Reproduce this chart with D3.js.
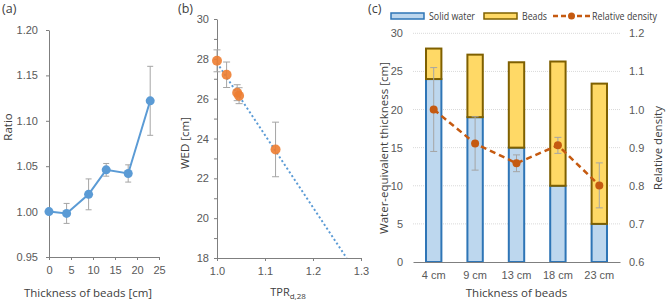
<!DOCTYPE html>
<html>
<head>
<meta charset="utf-8">
<script src="https://cdn.jsdelivr.net/npm/d3@7"></script>
<style>
  body { margin: 0; background: #fff; }
  svg { font-family: "Open Sans", sans-serif; }
  .axis text { fill: #595959; font-size: 11px; }
  .axis path, .axis line { stroke: #7f7f7f; }
  .title { fill: #404040; font-size: 11.5px; }
  .legend text { fill: #404040; font-size: 10px; }
</style>
</head>
<body>
<div id="chart"></div>
<script>
// panel (a) data
var thicknessA = [0, 4, 9, 13, 18, 23];
var ratioA = [1.000, 0.998, 1.019, 1.046, 1.042, 1.122];
var ratioErr = [0, 0.011, 0.017, 0.007, 0.0095, 0.038];
var ticksAx = [0, 5, 10, 15, 20, 25];
var ticksAy = [0.95, 1.00, 1.05, 1.10, 1.15, 1.20];

// panel (b) data
var tprB = [1.000, 1.020, 1.042, 1.046, 1.122];
var wedB = [27.9, 27.2, 26.3, 26.15, 23.45];
var wedErr = [0.55, 0.64, 0.4, 0.4, 1.37];
var trendX = [1.0, 1.27];
var trendY = [27.8, 18.0];
var ticksBx = [1.0, 1.1, 1.2, 1.3];

// panel (c) data
var categoriesC = ["4 cm", "9 cm", "13 cm", "18 cm", "23 cm"];
var solidWater = [24, 19, 15, 10, 5];
var beads = [4, 8.2, 11.2, 16.3, 18.4];
var relDensity = [1.00, 0.911, 0.859, 0.906, 0.801];
var relErr = [0.11, 0.07, 0.022, 0.021, 0.059];
var ticksCl = [0, 5, 10, 15, 20, 25, 30];
var ticksCr = [0.6, 0.7, 0.8, 0.9, 1.0, 1.1, 1.2];

var W = 666, H = 302;
var svg = d3.select("#chart").append("svg")
  .attr("width", W).attr("height", H);

var errColor = "#a5a5a5";

function errBars(g, xs, ys, es, xScale, yScale, cap) {
  xs.forEach(function(x, i) {
    if (!es[i]) return;
    var cx = xScale(x), y1 = yScale(ys[i] - es[i]), y2 = yScale(ys[i] + es[i]);
    g.append("line").attr("x1", cx).attr("x2", cx).attr("y1", y1).attr("y2", y2)
      .attr("stroke", errColor).attr("stroke-width", 1);
    [y1, y2].forEach(function(yy) {
      g.append("line").attr("x1", cx - cap).attr("x2", cx + cap).attr("y1", yy).attr("y2", yy)
        .attr("stroke", errColor).attr("stroke-width", 1);
    });
  });
}

// ---------------- panel (a)
var gA = svg.append("g");
var xA = d3.scaleLinear().domain([0, 25]).range([49, 159]);
var yA = d3.scaleLinear().domain([0.95, 1.20]).range([257, 30]);

gA.append("g").attr("class", "axis").attr("transform", "translate(0,257)")
  .call(d3.axisBottom(xA).tickValues(ticksAx).tickSize(3).tickPadding(6).tickSizeOuter(0));
gA.append("g").attr("class", "axis").attr("transform", "translate(49,0)")
  .call(d3.axisLeft(yA).tickValues(ticksAy).tickFormat(d3.format(".2f")).tickSize(3).tickPadding(8).tickSizeOuter(0));

errBars(gA, thicknessA, ratioA, ratioErr, xA, yA, 3);

gA.append("path")
  .datum(thicknessA.map(function(d, i) { return [d, ratioA[i]]; }))
  .attr("fill", "none").attr("stroke", "#5b9bd5").attr("stroke-width", 2)
  .attr("d", d3.line().x(function(d) { return xA(d[0]); }).y(function(d) { return yA(d[1]); }));
gA.selectAll("circle").data(thicknessA).enter().append("circle")
  .attr("cx", function(d) { return xA(d); })
  .attr("cy", function(d, i) { return yA(ratioA[i]); })
  .attr("r", 4.5).attr("fill", "#5b9bd5");

gA.append("text").attr("class", "title").attr("x", 2).attr("y", 13).style("font-size", "12.5px").text("(a)");
gA.append("text").attr("class", "title").attr("text-anchor", "middle")
  .attr("transform", "translate(12,127) rotate(-90)").text("Ratio");
gA.append("text").attr("class", "title").attr("text-anchor", "middle")
  .attr("x", 88).attr("y", 297).text("Thickness of beads [cm]");

// ---------------- panel (b)
var gB = svg.append("g");
var xB = d3.scaleLinear().domain([1.0, 1.3]).range([217, 361]);
var yB = d3.scaleLinear().domain([18, 30]).range([258, 19]);

gB.append("g").attr("class", "axis").attr("transform", "translate(0,258)")
  .call(d3.axisBottom(xB).tickValues(ticksBx).tickFormat(d3.format(".1f")).tickSize(3).tickPadding(6).tickSizeOuter(0));
gB.append("g").attr("class", "axis").attr("transform", "translate(217,0)")
  .call(d3.axisLeft(yB).ticks(12).tickFormat(function(d) { return d % 2 === 0 ? d : ""; })
    .tickSize(3).tickPadding(5).tickSizeOuter(0));

gB.append("path")
  .datum(trendX.map(function(d, i) { return [d, trendY[i]]; }))
  .attr("fill", "none").attr("stroke", "#5b9bd5").attr("stroke-width", 2)
  .attr("stroke-dasharray", "2,2.5")
  .attr("d", d3.line().x(function(d) { return xB(d[0]); }).y(function(d) { return yB(d[1]); }));

errBars(gB, tprB, wedB, wedErr, xB, yB, 3.5);

gB.selectAll("circle").data(tprB).enter().append("circle")
  .attr("cx", function(d) { return xB(d); })
  .attr("cy", function(d, i) { return yB(wedB[i]); })
  .attr("r", 5).attr("fill", "#ed7d31").attr("fill-opacity", 0.9);

gB.append("text").attr("class", "title").attr("x", 178).attr("y", 13).style("font-size", "12.5px").text("(b)");
gB.append("text").attr("class", "title").attr("text-anchor", "middle")
  .attr("transform", "translate(189,143) rotate(-90)").text("WED [cm]");
var tpr = gB.append("text").attr("class", "title").attr("text-anchor", "middle")
  .attr("x", 288).attr("y", 296).style("font-size", "11px");
tpr.append("tspan").text("TPR");
tpr.append("tspan").attr("dy", 3).style("font-size", "8px").text("d,28");

// ---------------- panel (c)
var gC = svg.append("g");
var xC = d3.scaleBand().domain(categoriesC).range([413, 620]).paddingInner(0.58).paddingOuter(0.29);
var yC = d3.scaleLinear().domain([0, 30]).range([262, 33.3]);
var yC2 = d3.scaleLinear().domain([0.6, 1.2]).range([262, 33.3]);

// gridlines
gC.append("g").selectAll("line").data(ticksCl.slice(1)).enter().append("line")
  .attr("x1", 413).attr("x2", 620)
  .attr("y1", function(d) { return yC(d); }).attr("y2", function(d) { return yC(d); })
  .attr("stroke", "#d9d9d9").attr("stroke-width", 1).attr("stroke-dasharray", "1,1");

var leftAx = gC.append("g").attr("class", "axis").attr("transform", "translate(413,0)")
  .call(d3.axisLeft(yC).tickValues(ticksCl).tickSize(0).tickPadding(10));
leftAx.select(".domain").remove();
var rightAx = gC.append("g").attr("class", "axis").attr("transform", "translate(620,0)")
  .call(d3.axisRight(yC2).tickValues(ticksCr).tickFormat(d3.format(".1f")).tickSize(0).tickPadding(9));
rightAx.select(".domain").remove();

var rows = categoriesC.map(function(c, i) { return { cat: c, solid: solidWater[i], beads: beads[i] }; });
var stack = d3.stack().keys(["solid", "beads"])(rows);
var fills = { solid: "#bdd7ee", beads: "#ffd966" };
var strokes = { solid: "#2e75b6", beads: "#7f6000" };

stack.forEach(function(layer) {
  gC.append("g").selectAll("rect").data(layer).enter().append("rect")
    .attr("x", function(d) { return xC(d.data.cat) + 1; })
    .attr("width", xC.bandwidth() - 2)
    .attr("y", function(d) { return yC(d[1]); })
    .attr("height", function(d) { return yC(d[0]) - yC(d[1]); })
    .attr("fill", fills[layer.key]).attr("stroke", strokes[layer.key]).attr("stroke-width", 2);
});

var bottomAx = gC.append("g").attr("class", "axis").attr("transform", "translate(0,262)")
  .call(d3.axisBottom(xC).tickSize(0).tickPadding(9));
bottomAx.select(".domain").attr("stroke", "#595959");

// relative density
var xMid = function(c) { return xC(c) + xC.bandwidth() / 2; };
categoriesC.forEach(function(c, i) {
  var cx = xMid(c), y1 = yC2(relDensity[i] - relErr[i]), y2 = yC2(relDensity[i] + relErr[i]);
  gC.append("line").attr("x1", cx).attr("x2", cx).attr("y1", y1).attr("y2", y2)
    .attr("stroke", errColor).attr("stroke-width", 1);
  [y1, y2].forEach(function(yy) {
    gC.append("line").attr("x1", cx - 3.5).attr("x2", cx + 3.5).attr("y1", yy).attr("y2", yy)
      .attr("stroke", errColor).attr("stroke-width", 1);
  });
});
gC.append("path")
  .datum(categoriesC)
  .attr("fill", "none").attr("stroke", "#c55a11").attr("stroke-width", 2.5)
  .attr("stroke-dasharray", "6,4")
  .attr("d", d3.line().x(function(d) { return xMid(d); }).y(function(d, i) { return yC2(relDensity[i]); }));
gC.selectAll("circle.rd").data(categoriesC).enter().append("circle")
  .attr("cx", function(d) { return xMid(d); })
  .attr("cy", function(d, i) { return yC2(relDensity[i]); })
  .attr("r", 4).attr("fill", "#c55a11");

gC.append("text").attr("class", "title").attr("x", 368).attr("y", 13).style("font-size", "12.5px").text("(c)");
gC.append("text").attr("class", "title").attr("text-anchor", "middle")
  .attr("transform", "translate(388,148) rotate(-90)").text("Water-equivalent thickness [cm]");
gC.append("text").attr("class", "title").attr("text-anchor", "middle")
  .attr("transform", "translate(662,148) rotate(-90)").text("Relative density");
gC.append("text").attr("class", "title").attr("text-anchor", "middle")
  .attr("x", 516.5).attr("y", 297).text("Thickness of beads");

// legend
var lg = gC.append("g").attr("class", "legend");
lg.append("rect").attr("x", 391).attr("y", 13).attr("width", 33).attr("height", 6)
  .attr("fill", fills.solid).attr("stroke", strokes.solid).attr("stroke-width", 1.5);
lg.append("text").attr("x", 429).attr("y", 20)
  .attr("textLength", 46).attr("lengthAdjust", "spacingAndGlyphs").text("Solid water");
lg.append("rect").attr("x", 484).attr("y", 13).attr("width", 33).attr("height", 6)
  .attr("fill", fills.beads).attr("stroke", strokes.beads).attr("stroke-width", 1.5);
lg.append("text").attr("x", 522).attr("y", 20)
  .attr("textLength", 25).attr("lengthAdjust", "spacingAndGlyphs").text("Beads");
lg.append("line").attr("x1", 553).attr("x2", 590).attr("y1", 16).attr("y2", 16)
  .attr("stroke", "#c55a11").attr("stroke-width", 2.5).attr("stroke-dasharray", "5,3");
lg.append("circle").attr("cx", 571.5).attr("cy", 16).attr("r", 3.5).attr("fill", "#c55a11");
lg.append("text").attr("x", 592).attr("y", 20)
  .attr("textLength", 65).attr("lengthAdjust", "spacingAndGlyphs").text("Relative density");
</script>
</body>
</html>
